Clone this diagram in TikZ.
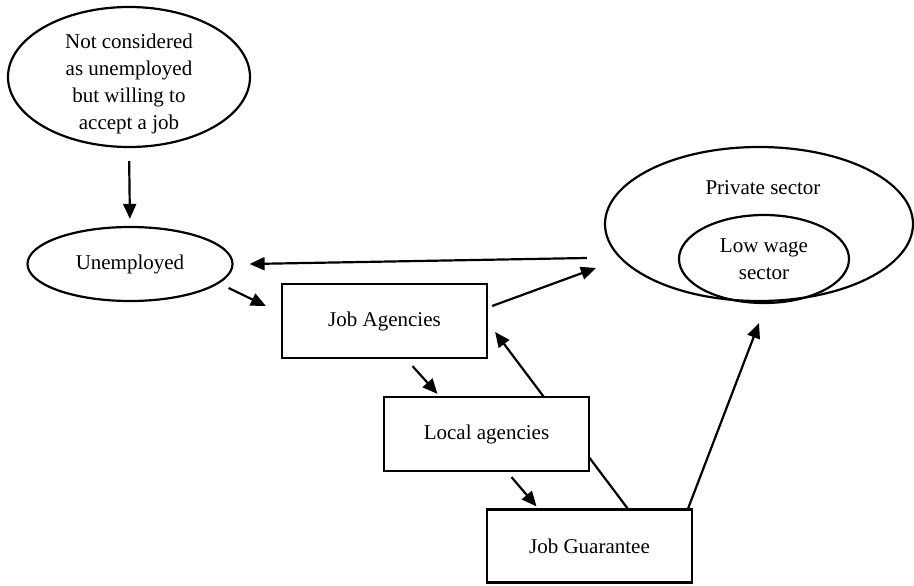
\documentclass[tikz,border=0pt]{standalone}
\usepackage{fontspec}
\setmainfont{Liberation Serif}
\usetikzlibrary{shapes.geometric,arrows.meta}

\begin{document}
\begin{tikzpicture}[x=1pt,y=-1pt,
        every node/.style={font=\fontsize{21}{27}\selectfont, inner sep=0pt},
        oval/.style={draw=black, line width=2.2pt, ellipse, align=center},
        box/.style={draw=black, line width=2.2pt, fill=white, minimum width=205, minimum height=74},
        arr/.style={line width=2.2pt, -{Triangle[length=15pt,width=13pt]}}]
        \useasboundingbox (0,0) rectangle (914,586);

        \node[oval, minimum width=242, minimum height=140] (notcons) at (129,77) {};
        \node[align=center] (notconslbl) at (129,84) {Not considered\\as unemployed\\but willing to\\accept a job};
        \node[oval, minimum width=205, minimum height=74] (unemp) at (130,264) {Unemployed};
        \node[box] (jobag) at (384.5,321) {Job Agencies};
        \node[box, minimum height=73] (jobguar) at (589.5,546) {Job Guarantee};
        \node[oval, minimum width=308, minimum height=154] (privsec) at (759,224) {};
        \node (privlbl) at (763,188) {Private sector};
        \node[oval, minimum width=170, minimum height=88] (lowwage) at (764,259) {Low wage\\sector};

        % goes behind the local agencies box
        \draw[arr]([xshift=38]jobguar.north) -- ([shift={(7,11)}]jobag.east);

        \node[box] (localag) at (486.5,434) {Local agencies};

        \draw[arr,shorten <=13pt,shorten >=7pt](notcons.south) -- (unemp.north);
        \draw[arr]([shift={(-17,34)}]privsec.west) -- ([xshift=16]unemp.east);
        \draw[arr]([shift={(-5,24)}]unemp.east) -- ([shift={(-15,-15)}]jobag.west);
        \draw[arr]([shift={(4,-15)}]jobag.east) -- ([shift={(-8,44)}]privsec.west);
        \draw[arr]([shift={(28,7)}]jobag.south) -- ([shift={(-49,-2)}]localag.north);
        \draw[arr]([shift={(25,5)}]localag.south) -- ([shift={(-53,-2)}]jobguar.north);
        \draw[arr]([xshift=-5]jobguar.north east) -- ([shift={(0,21)}]privsec.south);
    \end{tikzpicture}
\end{document}
